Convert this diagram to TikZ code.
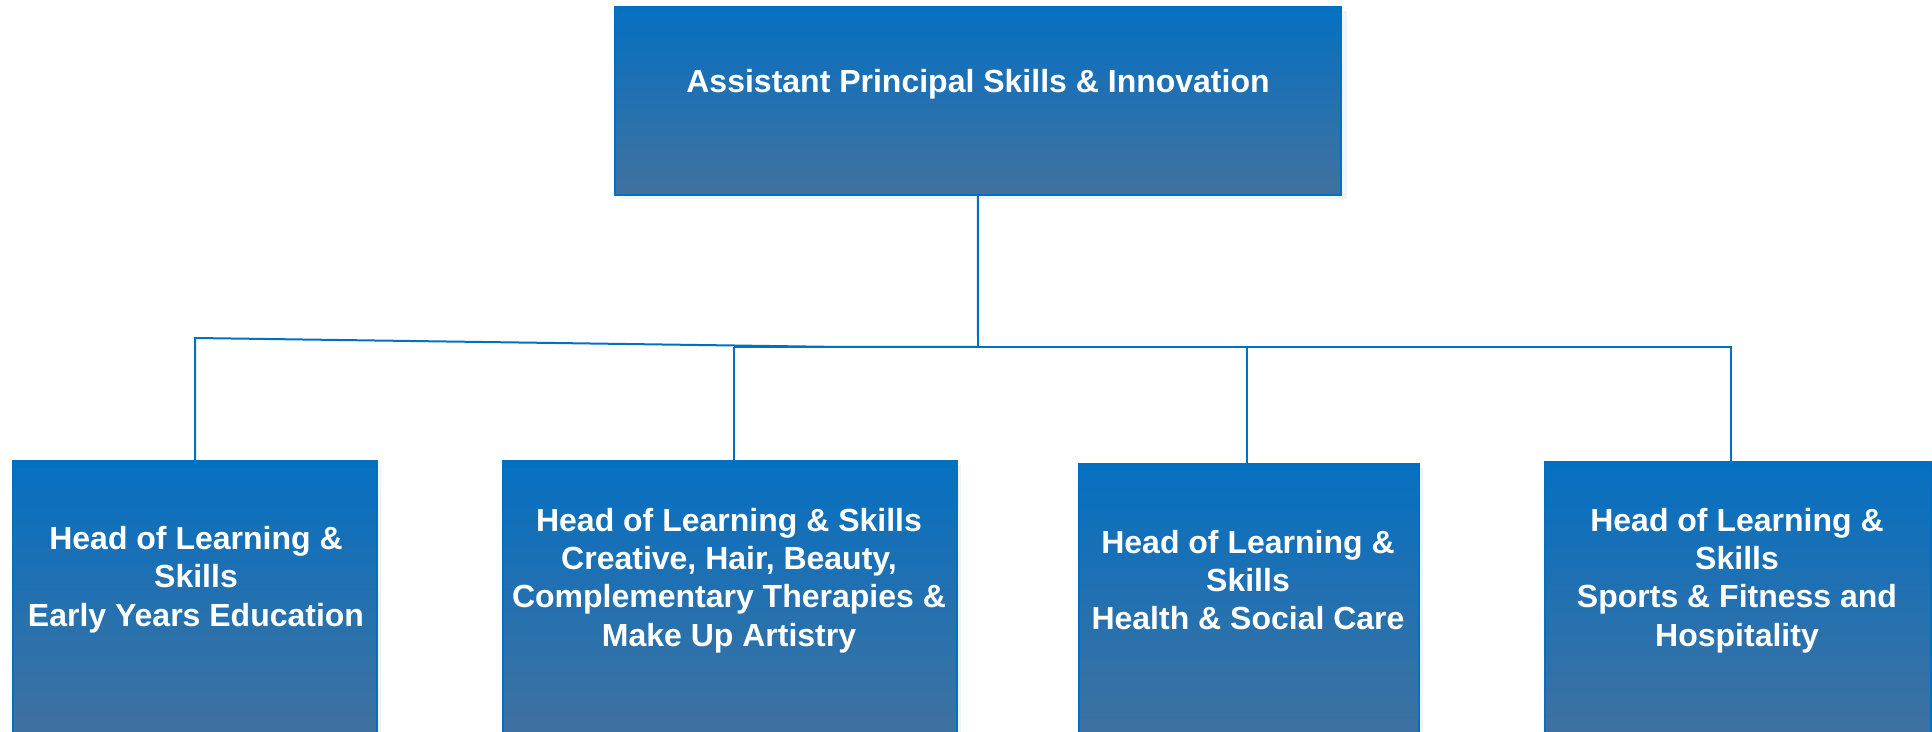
\documentclass[tikz,border=0pt]{standalone}
\usepackage{fontspec}
\setmainfont{Liberation Sans}
\begin{document}
\begin{tikzpicture}[x=0.5pt,y=-0.5pt,
  boxshade/.style={draw=linec, line width=0.8pt, top color=topc, bottom color=botc, inner sep=0pt},
  shadowbox/.style={fill=shadowc, draw=none},
  boxtext/.style={text=white, font=\bfseries\fontsize{16}{19.2}\selectfont, align=center, inner sep=0pt},
  conn/.style={draw=linec, line width=1pt}
]
\definecolor{linec}{HTML}{0070C0}
\definecolor{topc}{HTML}{0570C1}
\definecolor{botc}{HTML}{41719F}
\definecolor{shadowc}{HTML}{EEF4FA}
\useasboundingbox (0,0) rectangle (1932,732);
% shadows
\fill[shadowbox] (619,11) rectangle (1347,199);
\fill[shadowbox] (17,465) rectangle (381,740);
\fill[shadowbox] (507,465) rectangle (961,740);
\fill[shadowbox] (1083,468) rectangle (1423,740);
\fill[shadowbox] (1549,466) rectangle (1936,740);
% boxes
\node[boxshade, minimum width=363pt, minimum height=94pt, anchor=north west] (top) at (614,6) {};
\node[boxshade, minimum width=182pt, minimum height=140pt, anchor=north west] (b1) at (12,460) {};
\node[boxshade, minimum width=227pt, minimum height=140pt, anchor=north west] (b2) at (502,460) {};
\node[boxshade, minimum width=170pt, minimum height=140pt, anchor=north west] (b3) at (1078,463) {};
\node[boxshade, minimum width=193pt, minimum height=140pt, anchor=north west] (b4) at (1544,461) {};
% texts
\node[boxtext] (ttop) at (978,84.5) {Assistant Principal Skills \& Innovation};
\node[boxtext] (t1) at (196,579.5) {Head of Learning \&\\Skills\\Early Years Education};
\node[boxtext] (t2) at (729,580.5) {Head of Learning \& Skills\\Creative, Hair, Beauty,\\Complementary Therapies \&\\Make Up Artistry};
\node[boxtext] (t3) at (1248,580) {Head of Learning \&\\Skills\\Health \& Social Care};
\node[boxtext] (t4) at (1737,580.5) {Head of Learning \&\\Skills\\Sports \& Fitness and\\Hospitality};
% connector points
\coordinate (j) at (978,347);
\coordinate (k) at (842,347);
\coordinate (c1) at (195,338);
\coordinate (p1) at (195,460);
\coordinate (h2) at (734,347);
\coordinate (p2) at (734,460);
\coordinate (h3) at (1247,347);
\coordinate (p3) at (1247,463);
\coordinate (h4) at (1731,347);
\coordinate (p4) at (1731,461);
% connectors
\draw[conn] (top.south) -- (j);
\draw[conn] (j) -- (k) -- (c1) -- (p1);
\draw[conn] (j) -- (h4) -- (p4);
\draw[conn] (h2) -- (j);
\draw[conn] (h2) -- (p2);
\draw[conn] (h3) -- (p3);
\end{tikzpicture}
\end{document}
